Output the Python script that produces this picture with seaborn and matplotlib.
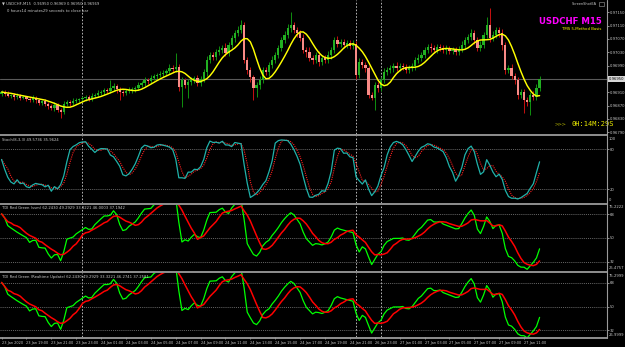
import numpy as np
import pandas as pd
import matplotlib
matplotlib.use("Agg")
import matplotlib.pyplot as plt
import seaborn as sns
from matplotlib.lines import Line2D
from matplotlib import font_manager

# ---------------- data ----------------
closes = [
    0.96911, 0.96905, 0.96899, 0.96902, 0.96896, 0.96899,
    0.96893, 0.96896, 0.96890, 0.96887, 0.96893,
    0.96887, 0.96878, 0.96884, 0.96875, 0.96869,
    0.96863, 0.96872, 0.96857, 0.96851, 0.96875,
    0.96881, 0.96878, 0.96884, 0.96887, 0.96890,
    0.96893, 0.96896, 0.96890, 0.96899, 0.96902, 0.96908, 0.96911,
    0.96917, 0.96914, 0.96923, 0.96929, 0.96920,
    0.96911, 0.96908, 0.96914, 0.96917, 0.96920,
    0.96923, 0.96932, 0.96938, 0.96947, 0.96944,
    0.96953, 0.96959, 0.96962, 0.96965, 0.96968, 0.96974,
    0.96983, 0.96980, 0.96986,
    0.96926, 0.96947, 0.96932, 0.96941,
    0.96947, 0.96953, 0.96938, 0.96950,
    0.96971, 0.97007, 0.97022,
    0.97016, 0.97031, 0.97037, 0.97043, 0.97028,
    0.97052, 0.97073, 0.97088,
    0.97097, 0.97112,
    0.97007, 0.96977, 0.96956, 0.96923, 0.96932,
    0.96947, 0.96977, 0.96971, 0.96992,
    0.97007, 0.97022, 0.97043, 0.97067,
    0.97082, 0.97103, 0.97112, 0.97097,
    0.97088, 0.97073, 0.97037,
    0.97031, 0.97013, 0.97007, 0.97022, 0.97001,
    0.97013, 0.97007, 0.97022, 0.97037,
    0.97067, 0.97055, 0.97061, 0.97052,
    0.97058, 0.97049, 0.97055,
    0.96962, 0.97001, 0.96992, 0.96983,
    0.96902, 0.96893,
    0.96932, 0.96923, 0.96947,
    0.96971, 0.96977, 0.96983, 0.96989,
    0.96983, 0.96989, 0.96986, 0.96977,
    0.96983, 0.96989, 0.97007, 0.97013,
    0.97022, 0.97037, 0.97046,
    0.97043, 0.97037, 0.97046, 0.97043,
    0.97037, 0.97040, 0.97034, 0.97037, 0.97031,
    0.97040, 0.97052, 0.97067, 0.97076,
    0.97088, 0.97067, 0.97043,
    0.97052, 0.97082, 0.97112,
    0.97073, 0.97082, 0.97097,
    0.97088, 0.97052, 0.96977,
    0.96983, 0.96959, 0.96947,
    0.96902, 0.96911, 0.96887,
    0.96881, 0.96902, 0.96896,
    0.96923, 0.96950,
]
first_open = 0.96905

# upper / lower shadow lengths in points (1 point = 0.00001)
up_wick = [
    6, 5, 8, 4, 6, 9, 5, 7, 4, 6,
    8, 5, 6, 4, 7, 5, 6, 9, 5, 6,
    9, 6, 5, 8, 6, 4, 7, 5, 6, 8,
    6, 9, 5, 7, 6, 24, 8, 6, 5, 7,
    6, 8, 5, 7, 9, 6, 8, 5, 10, 7,
    6, 9, 8, 7, 12, 9, 42, 8, 10, 7,
    9, 8, 6, 10, 8, 9, 12, 8, 10, 9,
    11, 8, 14, 9, 10, 8, 12, 15, 9, 8,
    10, 7, 9, 11, 8, 10, 9, 12, 8, 10,
    9, 11, 12, 39, 9, 10, 8, 12, 9, 14,
    8, 10, 12, 9, 8, 11, 10, 9, 12, 8,
    10, 9, 8, 11, 9, 12, 8, 9, 7, 8,
    10, 9, 8, 12, 10, 8, 9, 11, 8, 10,
    9, 8, 10, 9, 12, 8, 10, 9, 11, 8,
    9, 10, 8, 12, 9, 8, 10, 9, 12, 10,
    9, 11, 10, 8, 12, 10, 24, 51, 12, 10,
    9, 11, 10, 8, 12, 9, 10, 8, 9, 10,
    9, 11, 12, 10,
]
dn_wick = [
    5, 7, 4, 6, 8, 5, 6, 4, 7, 5,
    6, 8, 5, 7, 6, 9, 5, 8, 6, 18,
    7, 5, 8, 6, 5, 7, 6, 8, 5, 6,
    7, 5, 6, 8, 6, 7, 9, 12, 24, 8,
    7, 6, 8, 9, 7, 6, 8, 9, 6, 7,
    8, 6, 9, 7, 8, 10, 9, 12, 60, 10,
    40, 9, 8, 10, 9, 8, 11, 9, 8, 10,
    9, 8, 10, 9, 8, 11, 9, 8, 10, 12,
    14, 36, 27, 12, 10, 9, 11, 8, 10, 9,
    8, 10, 9, 11, 8, 12, 9, 10, 14, 9,
    11, 9, 12, 8, 10, 9, 11, 8, 10, 9,
    8, 10, 9, 8, 12, 10, 9, 11, 10, 6,
    36, 12, 9, 8, 10, 9, 11, 8, 10, 9,
    8, 10, 9, 11, 8, 10, 9, 8, 11, 9,
    10, 8, 9, 11, 10, 8, 9, 10, 8, 11,
    9, 10, 12, 9, 8, 10, 9, 11, 10, 9,
    11, 14, 12, 10, 9, 11, 12, 10, 39, 12,
    39, 10, 9, 8,
]

time_labels = [
    "23 Jan 2020", "23 Jan 19:00", "23 Jan 21:00", "23 Jan 23:00",
    "24 Jan 01:00", "24 Jan 03:00", "24 Jan 05:00", "24 Jan 07:00",
    "24 Jan 09:00", "24 Jan 11:00", "24 Jan 13:00", "24 Jan 15:00",
    "24 Jan 17:00", "24 Jan 19:00", "24 Jan 21:00", "26 Jan 23:00",
    "27 Jan 01:00", "27 Jan 03:00", "27 Jan 05:00", "27 Jan 07:00",
    "27 Jan 09:00", "27 Jan 11:00",
]
label_every = 8                 # bars between time labels
day_breaks = [26, 114, 122]     # bars where a new day starts

price_ticks = [0.96790, 0.96830, 0.96870, 0.96910, 0.96990,
               0.97030, 0.97070, 0.97110, 0.97150]
stoch_levels = [80, 20]
tdi_levels = [68, 50, 32]
tdi1_range = (25.4757, 75.2222)
tdi2_range = (26.9999, 75.2999)
rsi_start = 65.0                # TDI level at the left edge

header_1 = "\u25bc USDCHF,M15  0.96950 0.96969 0.96950 0.96969"
header_2 = "0 hours14 minutes29 seconds to close bar"
stoch_title = "Stoch(8,3,3) 49.5736 35.9624"
tdi1_title = "TDI Red Green (ssm) 62.2430 49.2929 33.3221 46.0003 37.1942"
tdi2_title = ("TDI Red Green (Realtime Update) 62.2430 49.2929 33.3221 "
              "46.2741 37.2581")
timer_text = "0H:14M:29S"

# ---------------- derived series ----------------
n = len(closes)
opens = [first_open] + closes[:-1]
df = pd.DataFrame({"bar": np.arange(n), "open": opens, "close": closes})
df["high"] = df[["open", "close"]].max(axis=1) + np.array(up_wick) * 1e-5
df["low"] = df[["open", "close"]].min(axis=1) - np.array(dn_wick) * 1e-5
df["basis"] = (df["close"].rolling(5, min_periods=1).mean()
               .rolling(4, min_periods=1).mean())

K, D, S = 8, 3, 3
ll = df["low"].rolling(K, min_periods=1).min()
hh = df["high"].rolling(K, min_periods=1).max()
df["stoch"] = 100 * (df["close"] - ll).rolling(S, min_periods=1).sum() / \
    (hh - ll).rolling(S, min_periods=1).sum()
df["stoch_sig"] = df["stoch"].rolling(D, min_periods=1).mean()

# Wilder RSI(13), seeded at the level seen on the left edge
g = 5e-5 * rsi_start / 100
l = 5e-5 * (1 - rsi_start / 100)
rsi_vals = []
prev = first_open
for c in closes:
    d = c - prev
    prev = c
    g = (g * 12 + max(d, 0)) / 13
    l = (l * 12 + max(-d, 0)) / 13
    rsi_vals.append(100 - 100 / (1 + g / l))
rsi = pd.Series(rsi_vals)
df["tdi_green"] = rsi.rolling(2, min_periods=1).mean()
df["tdi_red"] = rsi.rolling(7, min_periods=1).mean()

# ---------------- figure ----------------
sns.set_theme(style="dark", rc={"axes.facecolor": "black",
                                "figure.facecolor": "black"})
installed = {f.name for f in font_manager.fontManager.ttflist}
if "Liberation Sans Narrow" in installed:
    SMALL = ["Liberation Sans Narrow", "DejaVu Sans"]
    FS, FX = 3.3, 3.2
else:
    SMALL = ["DejaVu Sans"]
    FS, FX = 2.7, 2.5
plt.rcParams["font.family"] = SMALL

W, H = 625, 347
fig = plt.figure(figsize=(W / 100, H / 100), dpi=100, facecolor="black")


def rect(top, bottom, left=0, right=607):
    return [left / W, 1 - bottom / H, (right - left) / W, (bottom - top) / H]


ax_m = fig.add_axes(rect(0, 133.5))
ax_s = fig.add_axes(rect(136, 202.5))
ax_t1 = fig.add_axes(rect(204.5, 270.5))
ax_t2 = fig.add_axes(rect(273, 337))
axes = [ax_m, ax_s, ax_t1, ax_t2]

XMAX = -0.5 + 607 / 3.11
TXT = "#c8c8c8"

for ax in axes:
    ax.set_facecolor("black")
    ax.set_xlim(-0.5, XMAX)
    for sp in ax.spines.values():
        sp.set_visible(False)
    ax.grid(False)
    ax.set_xticks([])
    ax.yaxis.tick_right()
    ax.tick_params(axis="y", colors=TXT, labelsize=FS, length=1.2, width=0.5,
                   pad=0.6, direction="out")
    for b in day_breaks:
        ax.axvline(b, color="#d0d0d0", lw=0.6, ls=(0, (2, 2)), zorder=1)

# ---- main panel ----
bull = df["close"] >= df["open"]
for mask, body_c, wick_c in [(bull, "#22b022", "#10900f"),
                             (~bull, "#f88a86", "#c81010")]:
    sub = df[mask]
    ax_m.vlines(sub["bar"], sub["low"], sub["high"], color=wick_c, lw=0.7,
                zorder=2)
    h = (sub["close"] - sub["open"]).abs().clip(lower=0.000015)
    ax_m.bar(sub["bar"], h, bottom=sub[["open", "close"]].min(axis=1),
             width=0.72, color=body_c, linewidth=0, zorder=3)

sns.lineplot(data=df, x="bar", y="basis", ax=ax_m, color="#ffff00",
             linewidth=1.05, zorder=4)
last = closes[-1]
ax_m.axhline(last, color="#5a5a5a", lw=0.8, zorder=1)

ymax = 0.97187
ymin = ymax - 133.5 * 0.00003
ax_m.set_ylim(ymin, ymax)
ax_m.set_yticks(price_ticks)
ax_m.set_yticklabels([f"{v:.5f}" for v in price_ticks])
ax_m.set_xlabel("")
ax_m.set_ylabel("")
ax_m.text(XMAX + 0.5, last, f"{last:.5f}", fontsize=FS, color="black",
          va="center", ha="left",
          bbox=dict(boxstyle="square,pad=0.15", fc="#d8d8d8", ec="none"))

ax_m.text(0.003, 0.99, header_1, transform=ax_m.transAxes, fontsize=FS,
          color=TXT, va="top", family=SMALL + ["DejaVu Sans"])
ax_m.text(0.011, 0.935, header_2, transform=ax_m.transAxes, fontsize=FS,
          color=TXT, va="top")
ax_m.text(0.983, 0.985, "ScreenShotEA", transform=ax_m.transAxes,
          fontsize=FS * 0.95, color=TXT, va="top", ha="right")
ax_m.add_patch(plt.Rectangle((0.987, 0.955), 0.008, 0.03,
                             transform=ax_m.transAxes, fc="none",
                             ec="#a0a0a0", lw=0.4))
ax_m.text(0.992, 0.875, "USDCHF M15", transform=ax_m.transAxes, fontsize=6.2,
          color="#ff00ff", fontweight="bold", va="top", ha="right",
          family=["DejaVu Sans"])
ax_m.text(0.99, 0.795, "TMS 5-Method Basis", transform=ax_m.transAxes,
          fontsize=FS * 1.05, color="#ffff00", va="top", ha="right")
ax_m.text(0.913, 0.045, ">>>", transform=ax_m.transAxes, fontsize=4.6,
          color="#a8a800", va="bottom", ha="left", family=["DejaVu Sans Mono"])
ax_m.text(0.941, 0.045, timer_text, transform=ax_m.transAxes, fontsize=5.0,
          color="#e8e800", va="bottom", ha="left", family=["DejaVu Sans Mono"])

# ---- stochastic ----
sns.lineplot(data=df, x="bar", y="stoch", ax=ax_s, color="#20b2aa",
             linewidth=0.9, zorder=3)
sns.lineplot(data=df, x="bar", y="stoch_sig", ax=ax_s, color="#ff2020",
             linewidth=0.8, zorder=2)
ax_s.lines[-1].set_linestyle((0, (1, 1)))
for lv in stoch_levels:
    ax_s.axhline(lv, color="#8a8a8a", lw=0.5, ls=(0, (1.5, 1.5)), zorder=1)
ax_s.set_ylim(0, 100)
ax_s.set_yticks(stoch_levels)
ax_s.set_xlabel("")
ax_s.set_ylabel("")
ax_s.text(XMAX + 0.5, 98, "100", fontsize=FS, color=TXT, va="top")
ax_s.text(XMAX + 0.5, 1, "0", fontsize=FS, color=TXT, va="bottom")
ax_s.text(0.003, 0.97, stoch_title, transform=ax_s.transAxes, fontsize=FS,
          color=TXT, va="top")

# ---- TDI panels ----
for ax, lim, title in [(ax_t1, tdi1_range, tdi1_title),
                       (ax_t2, tdi2_range, tdi2_title)]:
    sns.lineplot(data=df, x="bar", y="tdi_green", ax=ax, color="#00ff00",
                 linewidth=0.9, zorder=3)
    sns.lineplot(data=df, x="bar", y="tdi_red", ax=ax, color="#ff0000",
                 linewidth=1.1, zorder=4)
    for lv in tdi_levels:
        ax.axhline(lv, color="#8a8a8a", lw=0.5, ls=(0, (1.5, 1.5)), zorder=1)
    ax.set_ylim(*lim)
    ax.set_yticks(tdi_levels)
    ax.set_xlabel("")
    ax.set_ylabel("")
    ax.text(XMAX + 0.5, lim[1] - 0.6, f"{lim[1]:.4f}", fontsize=FS,
            color=TXT, va="top")
    ax.text(XMAX + 0.5, lim[0] + 0.1, f"{lim[0]:.4f}", fontsize=FS,
            color=TXT, va="bottom")
    ax.text(0.003, 0.97, title, transform=ax.transAxes, fontsize=FS,
            color=TXT, va="top")

# bottom time axis
ax_t2.set_xticks([i * label_every for i in range(len(time_labels))])
ax_t2.set_xticklabels(time_labels, ha="left")
ax_t2.tick_params(axis="x", colors=TXT, labelsize=FX, length=1.5, width=0.5,
                  pad=1.4, direction="out", bottom=True)

# separators and frame
GRAY = "#9a9a9a"
for yp in [134.8, 203.5, 271.8, 337.6]:
    fig.add_artist(Line2D([0, 607 / W], [1 - yp / H, 1 - yp / H],
                          color=GRAY, lw=1.3))
fig.add_artist(Line2D([607 / W, 607 / W], [1 - 338 / H, 1.0], color=GRAY,
                      lw=0.8))

fig.savefig("out.png", dpi=100, facecolor="black")
